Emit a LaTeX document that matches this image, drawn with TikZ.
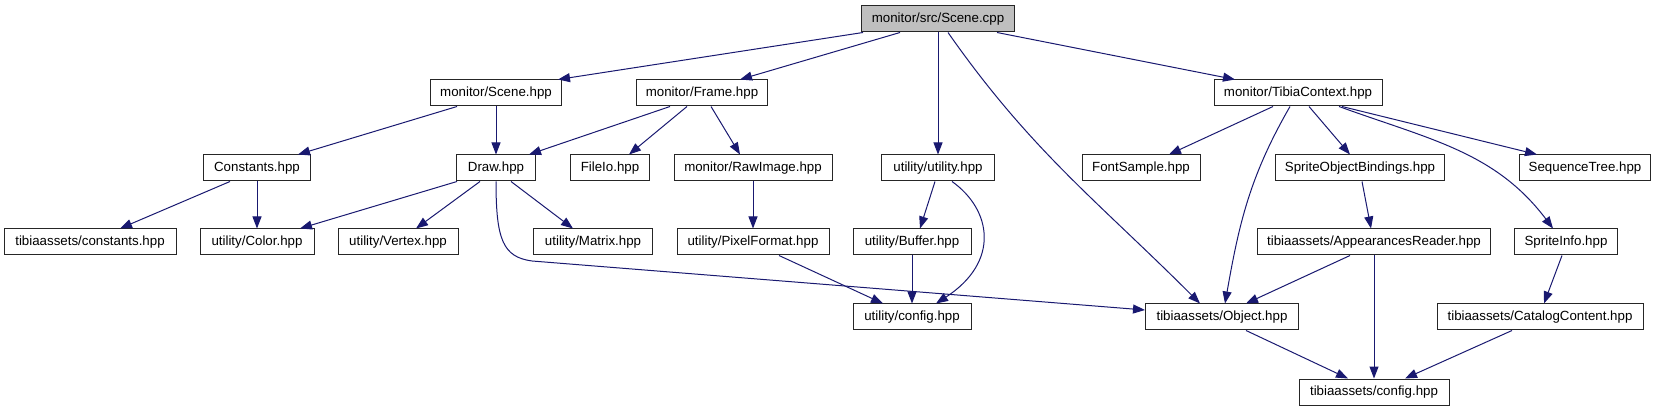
\documentclass[tikz,border=0pt]{standalone}
\usepackage{fontspec}
\setmainfont{Liberation Sans}
\usetikzlibrary{arrows.meta}

\definecolor{edgeblue}{HTML}{191970}
\definecolor{srcgray}{HTML}{BFBFBF}

\tikzset{
  filebox/.style={draw=black!85,line width=1pt,fill=white,minimum height=26pt,
    inner sep=2pt,font=\fontsize{13.3}{16}\selectfont},
  srcbox/.style={filebox,fill=srcgray},
  incl/.style={draw=edgeblue,line width=1pt,-{Triangle[length=12pt,width=9pt]}},
}

\begin{document}
\begin{tikzpicture}[x=1pt,y=-1pt]

\useasboundingbox (0,0) rectangle (1656,411);

%====================================================
% Row 0 : source file
%====================================================
\node[srcbox,minimum width=153pt] (cpp) at (938,19) {monitor/src/Scene.cpp};

%====================================================
% Row 1
%====================================================
\node[filebox,minimum width=131pt] (sceneh) at (496,93) {monitor/Scene.hpp};
\node[filebox,minimum width=131pt] (frame) at (702,93) {monitor/Frame.hpp};
\node[filebox,minimum width=168pt] (tibctx) at (1298,93) {monitor/TibiaContext.hpp};

%====================================================
% Row 2
%====================================================
\node[filebox,minimum width=107pt] (constants) at (257,168) {Constants.hpp};
\node[filebox,minimum width=79pt] (draw) at (496,168) {Draw.hpp};
\node[filebox,minimum width=79pt] (fileio) at (610,168) {FileIo.hpp};
\node[filebox,minimum width=158pt] (rawimg) at (753,168) {monitor/RawImage.hpp};
\node[filebox,minimum width=113pt] (utilh) at (938,168) {utility/utility.hpp};
\node[filebox,minimum width=118pt] (fontsample) at (1141,168) {FontSample.hpp};
\node[filebox,minimum width=169pt] (spriteob) at (1360,168) {SpriteObjectBindings.hpp};
\node[filebox,minimum width=131pt] (seqtree) at (1585,168) {SequenceTree.hpp};

%====================================================
% Row 3
%====================================================
\node[filebox,minimum width=172pt] (tconst) at (90,242) {tibiaassets/constants.hpp};
\node[filebox,minimum width=114pt] (color) at (257,242) {utility/Color.hpp};
\node[filebox,minimum width=120pt] (vertex) at (398,242) {utility/Vertex.hpp};
\node[filebox,minimum width=119pt] (matrix) at (593,242) {utility/Matrix.hpp};
\node[filebox,minimum width=152pt] (pixfmt) at (753,242) {utility/PixelFormat.hpp};
\node[filebox,minimum width=118pt] (buffer) at (912,242) {utility/Buffer.hpp};
\node[filebox,minimum width=233pt] (appread) at (1374,242) {tibiaassets/AppearancesReader.hpp};
\node[filebox,minimum width=103pt] (spriteinfo) at (1566,242) {SpriteInfo.hpp};

%====================================================
% Row 4 and 5
%====================================================
\node[filebox,minimum width=118pt] (uconfig) at (912,317) {utility/config.hpp};
\node[filebox,minimum width=153pt] (object) at (1222,317) {tibiaassets/Object.hpp};
\node[filebox,minimum width=206pt] (catalog) at (1540,317) {tibiaassets/CatalogContent.hpp};
\node[filebox,minimum width=150pt] (tconfig) at (1374,392) {tibiaassets/config.hpp};

%====================================================
% Includes of Scene.cpp
%====================================================
\draw[incl] ([xshift=-75pt]cpp.south) -- ([xshift=62pt]sceneh.north);
\draw[incl] ([xshift=-38pt]cpp.south) -- ([xshift=38pt]frame.north);
\draw[incl] (cpp.south) -- (utilh.north);
\draw[incl] ([xshift=10pt]cpp.south) to[out=-55,in=135] ([xshift=-22pt]object.north);
\draw[incl] ([xshift=59pt]cpp.south) -- ([xshift=-63pt]tibctx.north);

% Scene.hpp
\draw[incl] ([xshift=-39pt]sceneh.south) -- ([xshift=41pt]constants.north);
\draw[incl] (sceneh.south) -- (draw.north);

% Frame.hpp
\draw[incl] ([xshift=-32pt]frame.south) -- ([xshift=33pt]draw.north);
\draw[incl] ([xshift=-15pt]frame.south) -- ([xshift=19pt]fileio.north);
\draw[incl] ([xshift=9pt]frame.south) -- ([xshift=-13pt]rawimg.north);

% Constants.hpp
\draw[incl] ([xshift=-27pt]constants.south) -- ([xshift=30pt]tconst.north);
\draw[incl] (constants.south) -- (color.north);

% Draw.hpp
\draw[incl] ([xshift=-39pt]draw.south) -- ([xshift=43pt]color.north);
\draw[incl] ([xshift=-16pt]draw.south) -- ([xshift=18pt]vertex.north);
\draw[incl] ([xshift=15pt]draw.south) -- ([xshift=-20pt]matrix.north);
\draw[incl] (draw.south) .. controls (496,240) and (503,257) .. (532,261)
  -- ([yshift=7pt]object.west);

% RawImage.hpp, utility.hpp, PixelFormat.hpp, Buffer.hpp
\draw[incl] (rawimg.south) -- (pixfmt.north);
\draw[incl] ([xshift=-3pt]utilh.south) -- ([xshift=8pt]buffer.north);
\draw[incl] ([xshift=14pt]utilh.south) .. controls (992,210) and (1000,262)
  .. ([xshift=24pt]uconfig.north);
\draw[incl] ([xshift=26pt]pixfmt.south) -- ([xshift=-29pt]uconfig.north);
\draw[incl] (buffer.south) -- (uconfig.north);

% TibiaContext.hpp
\draw[incl] ([xshift=-25pt]tibctx.south) -- ([xshift=28pt]fontsample.north);
\draw[incl] ([xshift=-8pt]tibctx.south) to[out=-120,in=80] ([xshift=3pt]object.north);
\draw[incl] ([xshift=11pt]tibctx.south) -- ([xshift=-10pt]spriteob.north);
\draw[incl] ([xshift=41pt]tibctx.south) to[out=-20,in=127] ([xshift=-13pt]spriteinfo.north);
\draw[incl] ([xshift=44pt]tibctx.south) -- ([xshift=-48pt]seqtree.north);

% tibiaassets
\draw[incl] ([xshift=2pt]spriteob.south) -- ([xshift=-3pt]appread.north);
\draw[incl] ([xshift=-24pt]appread.south) -- ([xshift=24pt]object.north);
\draw[incl] (appread.south) -- (tconfig.north);
\draw[incl] ([xshift=-4pt]spriteinfo.south) -- ([xshift=4pt]catalog.north);
\draw[incl] ([xshift=24pt]object.south) -- ([xshift=-26pt]tconfig.north);
\draw[incl] ([xshift=-28pt]catalog.south) -- ([xshift=31pt]tconfig.north);

\end{tikzpicture}
\end{document}
